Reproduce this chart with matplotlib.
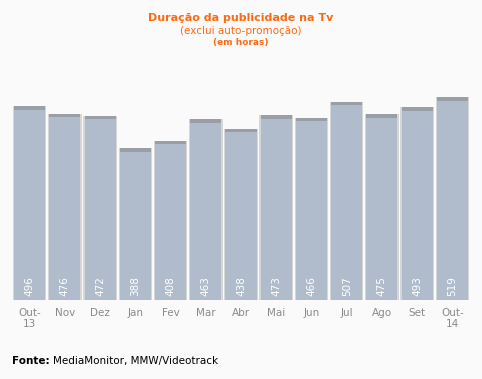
import numpy as np
import matplotlib.pyplot as plt

# dados
meses = ["Out-\n13", "Nov", "Dez", "Jan", "Fev", "Mar", "Abr", "Mai", "Jun", "Jul", "Ago", "Set", "Out-\n14"]
horas = [496, 476, 472, 388, 408, 463, 438, 473, 466, 507, 475, 493, 519]

laranja = "#ff6a10"
bg = "#fafafa"

fig = plt.figure(figsize=(4.82, 3.79), dpi=100, facecolor=bg)
ax = fig.add_axes([12 / 482, 1 - 300 / 379, 458 / 482, 240 / 379])
ax.set_facecolor(bg)

x = np.arange(len(horas))
# sombra / borda clara
ax.bar(x, horas, width=0.95, color="#d6d6d6", zorder=1)
ax.bar(x, horas, width=0.88, color="#b0bccc", zorder=2)
# faixa escura no topo
ax.bar(x, [9] * len(horas), bottom=np.array(horas) - 9, width=0.88, color="#9a9fa6", zorder=3)

for xi, v in zip(x, horas):
    ax.text(xi, 9, str(v), rotation=90, ha="center", va="bottom", color="white", fontsize=7.5, zorder=4)

ax.set_xlim(-0.5, len(horas) - 0.5)
ax.set_ylim(0, 614)
ax.set_xticks(x)
ax.set_xticklabels(meses, color="#8a8a8a", fontsize=7.5, linespacing=1.1)
ax.tick_params(axis="x", length=0, pad=6)
ax.set_yticks([])
for s in ax.spines.values():
    s.set_visible(False)

fig.text(0.5, 1 - 18 / 379, "Duração da publicidade na Tv", ha="center", va="center", color=laranja, fontsize=8, fontweight="bold")
fig.text(0.5, 1 - 31 / 379, "(exclui auto-promoção)", ha="center", va="center", color=laranja, fontsize=7.5)
fig.text(0.5, 1 - 43 / 379, "(em horas)", ha="center", va="center", color=laranja, fontsize=6.5, fontweight="bold")

fig.text(12 / 482, 1 - 361 / 379, "Fonte:", ha="left", va="center", fontsize=7.5, fontweight="bold", color="black")
fig.text(53 / 482, 1 - 361 / 379, "MediaMonitor, MMW/Videotrack", ha="left", va="center", fontsize=7.5, color="black")

fig.savefig("out.png", dpi=100, facecolor=bg)
